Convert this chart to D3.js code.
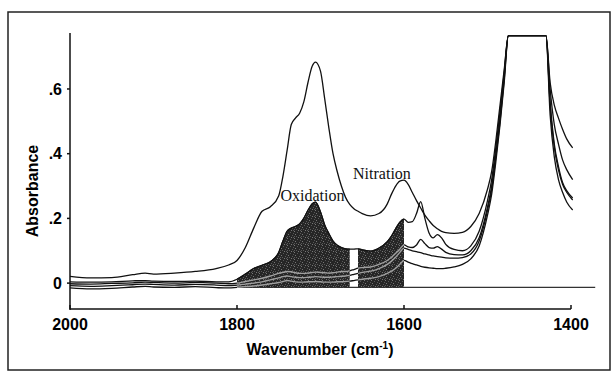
<!DOCTYPE html>
<html><head><meta charset="utf-8">
<script src="https://cdn.jsdelivr.net/npm/d3@7"></script>
<style>body{margin:0;background:#fff}svg{display:block}</style>
</head><body>
<svg id="c" width="616" height="379"></svg>
<script>
// ---- data ----
const wavenumbers = [2000,1975,1950,1925,1910,1900,1875,1850,1825,1810,1800,1790,1780,1770,1760,1750,1745,1740,1735,1730,1725,1720,1715,1710,1706,1700,1695,1690,1685,1680,1675,1670,1665,1660,1655,1650,1640,1630,1620,1615,1610,1605,1600,1595,1590,1585,1580,1575,1570,1565,1560,1555,1550,1540,1530,1520,1510,1500,1495,1490,1485,1480,1475,1430,1425,1420,1415,1410,1405,1398];
const spectrum1 = [0.021,0.016,0.017,0.026,0.031,0.028,0.031,0.036,0.045,0.056,0.07,0.11,0.17,0.222,0.236,0.27,0.33,0.41,0.49,0.51,0.525,0.56,0.62,0.67,0.683,0.655,0.57,0.48,0.4,0.345,0.3,0.265,0.243,0.23,0.222,0.215,0.208,0.215,0.245,0.275,0.3,0.315,0.318,0.305,0.28,0.255,0.232,0.21,0.193,0.178,0.168,0.16,0.156,0.154,0.157,0.175,0.215,0.29,0.345,0.44,0.55,0.66,0.765,0.765,0.62,0.55,0.51,0.475,0.445,0.418];
const spectrum2 = [0.004,0.003,0.004,0.007,0.008,0.006,0.005,0.006,0.004,0.004,0.012,0.028,0.045,0.055,0.066,0.095,0.13,0.16,0.17,0.175,0.183,0.2,0.225,0.245,0.25,0.22,0.18,0.153,0.13,0.117,0.11,0.106,0.105,0.105,0.106,0.103,0.099,0.108,0.128,0.145,0.168,0.188,0.198,0.188,0.19,0.215,0.252,0.2,0.155,0.14,0.15,0.14,0.12,0.104,0.1,0.115,0.16,0.255,0.32,0.42,0.53,0.65,0.765,0.765,0.6,0.49,0.43,0.38,0.35,0.32];
const spectrum3 = [-0.002,-0.003,-0.001,0.001,0.003,0.002,0.0,0.002,0.0,-0.002,0.0,0.005,0.01,0.015,0.022,0.03,0.033,0.036,0.035,0.032,0.03,0.03,0.031,0.033,0.034,0.033,0.032,0.031,0.032,0.034,0.036,0.036,0.038,0.042,0.046,0.048,0.05,0.058,0.07,0.08,0.092,0.105,0.118,0.112,0.11,0.118,0.135,0.122,0.11,0.108,0.113,0.105,0.095,0.088,0.087,0.1,0.14,0.235,0.3,0.4,0.51,0.64,0.765,0.765,0.56,0.43,0.36,0.31,0.285,0.263];
const spectrum4 = [-0.008,-0.01,-0.008,-0.005,-0.003,-0.004,-0.006,-0.004,-0.006,-0.008,-0.006,-0.003,0.0,0.004,0.01,0.016,0.02,0.022,0.02,0.018,0.017,0.017,0.018,0.019,0.02,0.019,0.018,0.018,0.019,0.02,0.021,0.022,0.024,0.027,0.03,0.033,0.037,0.045,0.058,0.068,0.08,0.095,0.108,0.104,0.1,0.097,0.094,0.09,0.087,0.084,0.082,0.08,0.078,0.077,0.079,0.09,0.13,0.225,0.29,0.39,0.5,0.63,0.765,0.765,0.55,0.42,0.35,0.305,0.28,0.257];
const spectrum5 = [-0.015,-0.018,-0.016,-0.012,-0.01,-0.012,-0.013,-0.011,-0.014,-0.015,-0.013,-0.011,-0.009,-0.006,-0.002,0.002,0.005,0.008,0.006,0.004,0.003,0.003,0.004,0.004,0.005,0.004,0.003,0.003,0.003,0.004,0.004,0.005,0.006,0.008,0.01,0.012,0.015,0.02,0.03,0.037,0.046,0.058,0.07,0.065,0.06,0.056,0.052,0.049,0.047,0.046,0.045,0.045,0.046,0.05,0.058,0.075,0.115,0.21,0.275,0.375,0.49,0.62,0.765,0.765,0.52,0.39,0.32,0.28,0.25,0.226];
const baselineValue = -0.013;
const baselineRange = [1800, 1371];
const oxidationRange = [1800, 1665];
const nitrationRange = [1655, 1600];
const xTicks = [2000, 1800, 1600, 1400];
const yTicks = [0, 0.2, 0.4, 0.6];
const yTickLabels = ["0", ".2", ".4", ".6"];
const annotations = [
  {text: "Oxidation", wn: 1748, v: 0.255},
  {text: "Nitration", wn: 1661, v: 0.322}
];

// ---- drawing ----
const svg = d3.select("#c");
const x = d3.scaleLinear().domain([2000, 1400]).range([70, 571]);
const y = d3.scaleLinear().domain([-0.08, 0.773]).range([309, 33]);

// frame
svg.append("rect").attr("x", 8).attr("y", 12).attr("width", 602).attr("height", 358)
  .attr("fill", "none").attr("stroke", "#222").attr("stroke-width", 1.5);

// stipple pattern for the filled areas
const defs = svg.append("defs");
const pat = defs.append("pattern").attr("id", "stip").attr("patternUnits", "userSpaceOnUse")
  .attr("width", 7).attr("height", 7);
pat.append("rect").attr("width", 7).attr("height", 7).attr("fill", "#262626");
[[0,0],[3,1],[6,2],[1,3],[5,4],[2,5],[4,6],[6,6],[0,5]].forEach((p,i) => pat.append("rect")
  .attr("x", p[0]).attr("y", p[1]).attr("width", 1).attr("height", 1)
  .attr("fill", i % 3 === 0 ? "#777" : "#585858"));

const allSeries = [spectrum1, spectrum2, spectrum3, spectrum4, spectrum5];
const toPts = s => wavenumbers.map((w, i) => [w, s[i]]);
const line = d3.line().x(d => x(d[0])).y(d => y(d[1])).curve(d3.curveMonotoneX);

// baseline
svg.append("line").attr("x1", x(baselineRange[0])).attr("x2", x(baselineRange[1]))
  .attr("y1", y(baselineValue)).attr("y2", y(baselineValue))
  .attr("stroke", "#333").attr("stroke-width", 1.3);

// all spectra
const g = svg.append("g");
allSeries.forEach(s => {
  g.append("path").attr("d", line(toPts(s))).attr("fill", "none")
    .attr("stroke", "#111").attr("stroke-width", 1.3).attr("stroke-linejoin", "round");
});

// shaded regions under spectrum2
const area = d3.area().x(d => x(d[0])).y0(y(baselineValue)).y1(d => y(d[1])).curve(d3.curveMonotoneX);
[oxidationRange, nitrationRange].forEach((r, k) => {
  const id = "clip" + k;
  defs.append("clipPath").attr("id", id).append("rect")
    .attr("x", x(r[0])).attr("y", 0).attr("width", x(r[1]) - x(r[0])).attr("height", 379);
  const sg = svg.append("g").attr("clip-path", `url(#${id})`);
  sg.append("path").attr("d", area(toPts(spectrum2))).attr("fill", "url(#stip)");
  [spectrum3, spectrum4, spectrum5].forEach(s => {
    sg.append("path").attr("d", line(toPts(s))).attr("fill", "none")
      .attr("stroke", "#a0a0a0").attr("stroke-width", 1.4);
  });
  sg.append("path").attr("d", line(toPts(spectrum2))).attr("fill", "none")
    .attr("stroke", "#111").attr("stroke-width", 1.2);
});

// axes
const ax = svg.append("g").attr("stroke", "#111").attr("stroke-width", 1.5);
ax.append("line").attr("x1", 70).attr("x2", 70).attr("y1", y(0.773)).attr("y2", 310);
ax.append("line").attr("x1", 70).attr("x2", x(1400)).attr("y1", 309).attr("y2", 309);
xTicks.forEach(t => ax.append("line").attr("x1", x(t)).attr("x2", x(t)).attr("y1", 309).attr("y2", 305));
yTicks.forEach(t => ax.append("line").attr("x1", 67).attr("x2", 70).attr("y1", y(t)).attr("y2", y(t)));

const sans = "Liberation Sans, Arial, sans-serif";
xTicks.forEach(t => svg.append("text").attr("x", x(t)).attr("y", 330).attr("text-anchor", "middle")
  .attr("font-family", sans).attr("font-weight", "bold").attr("font-size", 16).text(t));
yTicks.forEach((t, i) => svg.append("text").attr("x", 62).attr("y", y(t)).attr("dy", "0.36em")
  .attr("text-anchor", "end").attr("font-family", sans).attr("font-weight", "bold")
  .attr("font-size", 16).text(yTickLabels[i]));

svg.append("text").attr("transform", "translate(38,191) rotate(-90)").attr("text-anchor", "middle")
  .attr("font-family", sans).attr("font-weight", "bold").attr("font-size", 16).text("Absorbance");

const xl = svg.append("text").attr("x", 320).attr("y", 355).attr("text-anchor", "middle")
  .attr("font-family", sans).attr("font-weight", "bold").attr("font-size", 16);
xl.append("tspan").text("Wavenumber (cm");
xl.append("tspan").attr("font-size", 10).attr("dy", -6).text("-1");
xl.append("tspan").attr("dy", 6).text(")");

annotations.forEach(a => svg.append("text").attr("x", x(a.wn)).attr("y", y(a.v))
  .attr("font-family", "Liberation Serif, Times New Roman, serif").attr("font-size", 16)
  .attr("fill", "#111").text(a.text));
</script>
</body></html>
